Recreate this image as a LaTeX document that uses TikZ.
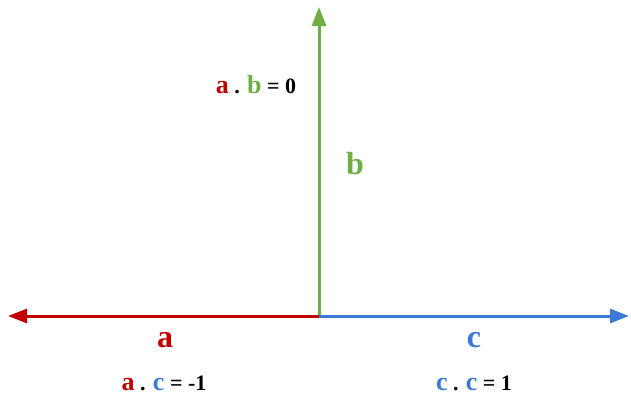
\documentclass[tikz,border=0pt]{standalone}
\usepackage{fontspec}
\setmainfont{Liberation Serif}
\usetikzlibrary{arrows.meta}
\definecolor{vred}{HTML}{C00000}
\definecolor{vgreen}{HTML}{70AD47}
\definecolor{vblue}{HTML}{3C78D8}
\newcommand{\vecl}[2]{\textcolor{#1}{\fontsize{26}{30}\selectfont #2}}

\begin{document}
\begin{tikzpicture}[x=1pt,y=-1pt,
    vec/.style={line width=3pt,-{Triangle[length=19pt,width=14pt]}},
    lbl/.style={font=\fontsize{32}{36}\selectfont\bfseries,inner sep=0pt},
    eqn/.style={font=\fontsize{22}{26}\selectfont\bfseries,inner sep=0pt}]
  \useasboundingbox (0,0) rectangle (631,400);
  \coordinate (o) at (319,316);
  \coordinate (ta) at (8,316);
  \coordinate (tb) at (319,7);
  \coordinate (tc) at (629,316);

  \draw[vec,vgreen] (o) -- (tb);
  \draw[vec,vred] (o) -- (ta);
  \draw[vec,vblue] (o) -- (tc);

  \node[lbl,text=vgreen] at (355,164) (b) {b};
  \node[lbl,text=vred] at (165,340) (a) {a};
  \node[lbl,text=vblue] at (474,340) (c) {c};
  \node[eqn] at (256,85) (ab) {\vecl{vred}{a} . \vecl{vgreen}{b} = 0};
  \node[eqn] at (164,383) (ac) {\vecl{vred}{a} . \vecl{vblue}{c} = -1};
  \node[eqn] at (474,383) (cc) {\vecl{vblue}{c} . \vecl{vblue}{c} = 1};
\end{tikzpicture}
\end{document}
